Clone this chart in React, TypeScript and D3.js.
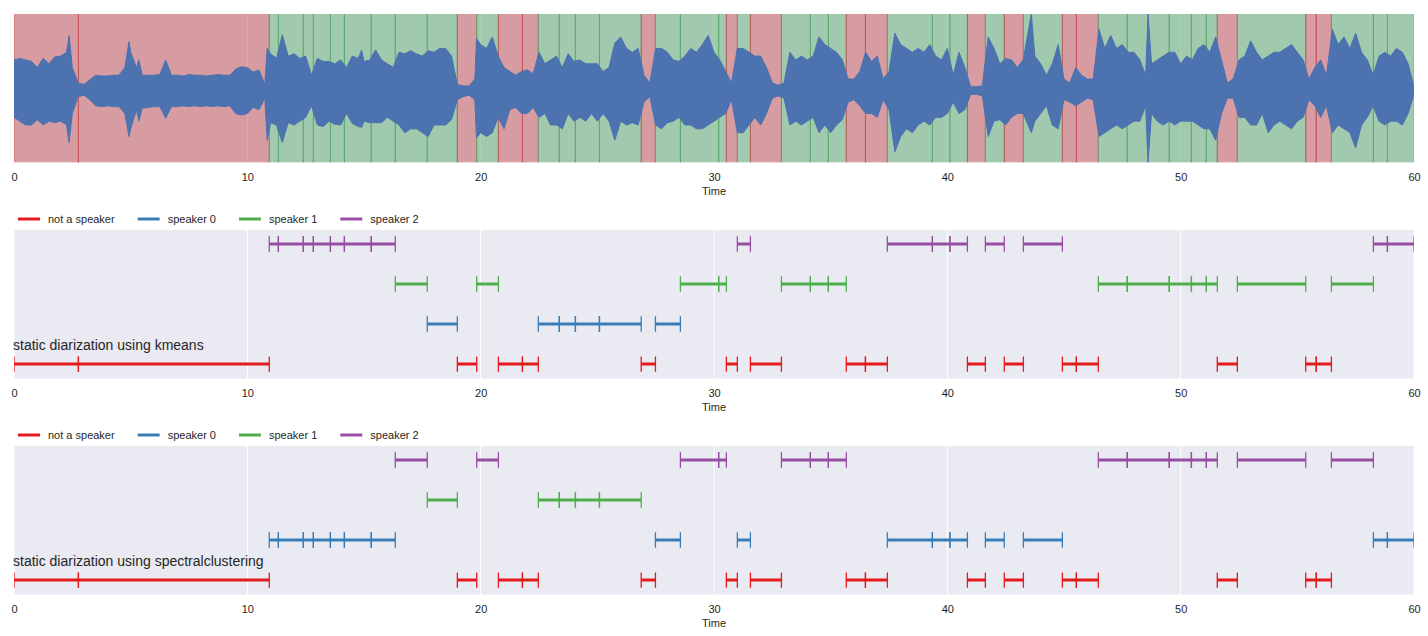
import React, { useEffect, useRef } from 'react';
import * as d3 from 'd3';

const timeTicks = [0, 10, 20, 30, 40, 50, 60];
const speakerIds = [-1, 0, 1, 2];
const speakerNames = ['not a speaker', 'speaker 0', 'speaker 1', 'speaker 2'];
const speakerColors = ['#e41a1c', '#377eb8', '#4daf4a', '#984ea3'];

// segment boundaries in seconds (52 segments)
const segmentBounds = [
  0, 2.76, 10.94, 11.33, 12.4, 12.83, 13.56, 14.16, 15.31, 16.34,
  17.71, 19.0, 19.83, 20.76, 21.79, 22.47, 23.37, 24.06, 25.09, 26.88,
  27.49, 28.56, 30.2, 30.53, 31.0, 31.56, 32.89, 34.13, 34.9, 35.67,
  36.49, 37.43, 39.36, 40.11, 40.86, 41.63, 42.44, 43.26, 44.93, 45.53,
  46.47, 47.71, 49.51, 50.46, 51.1, 51.57, 52.43, 55.36, 55.81, 56.46,
  58.26, 58.86, 60,
];

const kmeansLabels = [
  -1, -1, 2, 2, 2, 2, 2, 2, 2, 1, 0, -1, 1, -1, -1, 0, 0, 0, 0, -1,
  0, 1, 1, -1, 2, -1, 1, 1, 1, -1, -1, 2, 2, 2, -1, 2, -1, 2, -1, -1,
  1, 1, 1, 1, 1, -1, 1, -1, -1, 1, 2, 2,
];

const spectralLabels = [
  -1, -1, 0, 0, 0, 0, 0, 0, 0, 2, 1, -1, 2, -1, -1, 1, 1, 1, 1, -1,
  0, 2, 2, -1, 0, -1, 2, 2, 2, -1, -1, 0, 0, 0, -1, 0, -1, 0, -1, -1,
  2, 2, 2, 2, 2, -1, 2, -1, -1, 2, 0, 0,
];

// audio envelope: [time, max, min]
const waveEnvelope: [number, number, number][] = [
  [0, 0.4, -0.35], [0.25, 0.42, -0.4], [0.5, 0.4, -0.45], [0.75, 0.38, -0.45],
  [1, 0.3, -0.38], [1.25, 0.42, -0.45], [1.5, 0.35, -0.4], [1.75, 0.44, -0.42],
  [2, 0.45, -0.4], [2.25, 0.5, -0.45], [2.36, 0.72, -0.68], [2.5, 0.3, -0.3], [2.75, 0.1, -0.08],
  [3, 0.08, -0.06], [3.25, 0.14, -0.12], [3.5, 0.2, -0.2], [3.75, 0.19, -0.21],
  [4, 0.19, -0.2], [4.25, 0.2, -0.21], [4.5, 0.2, -0.21], [4.75, 0.3, -0.3], [4.93, 0.64, -0.6],
  [5, 0.5, -0.5], [5.25, 0.3, -0.25], [5.35, 0.4, -0.4], [5.5, 0.2, -0.23], [5.75, 0.2, -0.22],
  [6, 0.2, -0.21], [6.25, 0.21, -0.21], [6.5, 0.4, -0.36], [6.75, 0.2, -0.21],
  [7, 0.2, -0.21], [7.25, 0.19, -0.2], [7.5, 0.21, -0.21], [7.75, 0.2, -0.2],
  [8, 0.2, -0.21], [8.25, 0.19, -0.2], [8.5, 0.2, -0.21], [8.75, 0.21, -0.2],
  [9, 0.2, -0.21], [9.25, 0.2, -0.2], [9.5, 0.28, -0.3], [9.75, 0.31, -0.32],
  [10, 0.3, -0.3], [10.25, 0.24, -0.22], [10.5, 0.27, -0.25], [10.75, 0.08, -0.1], [10.85, 0.55, -0.65],
  [11, 0.48, -0.42], [11.25, 0.42, -0.45], [11.5, 0.73, -0.68], [11.75, 0.45, -0.42],
  [12, 0.48, -0.45], [12.25, 0.42, -0.4], [12.5, 0.45, -0.35], [12.75, 0.2, -0.2],
  [13, 0.42, -0.45], [13.25, 0.38, -0.47], [13.5, 0.38, -0.4], [13.75, 0.35, -0.44],
  [14, 0.4, -0.45], [14.25, 0.3, -0.3], [14.5, 0.45, -0.43], [14.75, 0.42, -0.47], [14.9, 0.53, -0.48],
  [15, 0.38, -0.4], [15.25, 0.4, -0.42], [15.5, 0.53, -0.42], [15.75, 0.4, -0.42],
  [16, 0.35, -0.35], [16.25, 0.3, -0.4], [16.5, 0.5, -0.45], [16.75, 0.48, -0.55],
  [17, 0.52, -0.5], [17.25, 0.48, -0.5], [17.5, 0.45, -0.55], [17.75, 0.52, -0.6],
  [18, 0.5, -0.45], [18.25, 0.55, -0.45], [18.5, 0.55, -0.45], [18.75, 0.45, -0.38],
  [19, 0.08, -0.12], [19.25, 0.06, -0.08], [19.5, 0.06, -0.06], [19.75, 0.15, -0.12], [19.82, 0.68, -0.62],
  [20, 0.6, -0.55], [20.25, 0.55, -0.6], [20.5, 0.7, -0.55], [20.75, 0.45, -0.35],
  [21, 0.3, -0.5], [21.25, 0.25, -0.25], [21.5, 0.2, -0.22], [21.75, 0.25, -0.3],
  [22, 0.27, -0.3], [22.25, 0.22, -0.22], [22.5, 0.5, -0.35], [22.75, 0.35, -0.3],
  [23, 0.4, -0.45], [23.25, 0.45, -0.45], [23.5, 0.3, -0.5], [23.75, 0.48, -0.3],
  [24, 0.38, -0.4], [24.25, 0.4, -0.35], [24.5, 0.35, -0.4], [24.75, 0.35, -0.3],
  [25, 0.35, -0.4], [25.25, 0.25, -0.3], [25.5, 0.3, -0.4], [25.75, 0.62, -0.65],
  [26, 0.7, -0.4], [26.25, 0.55, -0.45], [26.5, 0.5, -0.42], [26.75, 0.55, -0.45],
  [27, 0.2, -0.15], [27.25, 0.1, -0.08], [27.5, 0.55, -0.45], [27.75, 0.55, -0.5],
  [28, 0.5, -0.42], [28.25, 0.4, -0.4], [28.5, 0.38, -0.35], [28.75, 0.45, -0.45],
  [29, 0.55, -0.45], [29.25, 0.5, -0.5], [29.5, 0.6, -0.5], [29.75, 0.72, -0.45],
  [30, 0.5, -0.4], [30.25, 0.4, -0.35], [30.5, 0.25, -0.3], [30.75, 0.1, -0.12],
  [31, 0.55, -0.55], [31.25, 0.55, -0.55], [31.5, 0.5, -0.45], [31.75, 0.45, -0.35],
  [32, 0.45, -0.45], [32.25, 0.3, -0.3], [32.5, 0.1, -0.1], [32.75, 0.07, -0.07],
  [33, 0.1, -0.1], [33.25, 0.5, -0.45], [33.5, 0.4, -0.4], [33.75, 0.45, -0.45],
  [34, 0.4, -0.4], [34.25, 0.45, -0.35], [34.5, 0.7, -0.55], [34.75, 0.6, -0.45],
  [35, 0.55, -0.55], [35.25, 0.5, -0.45], [35.5, 0.4, -0.38], [35.75, 0.15, -0.15],
  [36, 0.15, -0.12], [36.25, 0.25, -0.2], [36.5, 0.5, -0.3], [36.75, 0.38, -0.3],
  [37, 0.45, -0.35], [37.25, 0.15, -0.12], [37.5, 0.25, -0.25], [37.75, 0.75, -0.8],
  [38, 0.6, -0.6], [38.25, 0.55, -0.5], [38.5, 0.5, -0.55], [38.75, 0.55, -0.45],
  [39, 0.5, -0.4], [39.25, 0.6, -0.45], [39.5, 0.45, -0.35], [39.75, 0.4, -0.35],
  [40, 0.55, -0.3], [40.25, 0.2, -0.15], [40.5, 0.5, -0.3], [40.75, 0.3, -0.25],
  [41, 0.05, -0.05], [41.25, 0.05, -0.05], [41.5, 0.06, -0.07], [41.75, 0.7, -0.6],
  [42, 0.55, -0.4], [42.25, 0.35, -0.38], [42.5, 0.42, -0.45], [42.75, 0.4, -0.35],
  [43, 0.3, -0.3], [43.25, 0.4, -0.3], [43.6, 1.0, -0.55], [43.75, 0.45, -0.4],
  [44, 0.35, -0.3], [44.25, 0.2, -0.2], [44.5, 0.35, -0.45], [44.75, 0.6, -0.5],
  [45, 0.15, -0.12], [45.25, 0.1, -0.15], [45.5, 0.3, -0.2], [45.75, 0.2, -0.15],
  [46, 0.15, -0.1], [46.25, 0.15, -0.12], [46.5, 0.8, -0.6], [46.75, 0.55, -0.55],
  [47, 0.72, -0.5], [47.25, 0.55, -0.45], [47.5, 0.6, -0.5], [47.75, 0.5, -0.45],
  [48, 0.5, -0.4], [48.25, 0.4, -0.4], [48.5, 0.2, -0.2], [48.6, 1.0, -0.94], [48.75, 0.35, -0.3],
  [49, 0.4, -0.4], [49.25, 0.45, -0.45], [49.5, 0.5, -0.4], [49.75, 0.5, -0.45],
  [50, 0.35, -0.4], [50.25, 0.45, -0.4], [50.5, 0.4, -0.4], [50.75, 0.55, -0.45],
  [51, 0.6, -0.5], [51.25, 0.5, -0.5], [51.5, 0.7, -0.65], [51.75, 0.4, -0.3],
  [52, 0.1, -0.1], [52.25, 0.15, -0.1], [52.5, 0.4, -0.35], [52.75, 0.45, -0.35],
  [53, 0.65, -0.45], [53.25, 0.5, -0.45], [53.5, 0.4, -0.3], [53.75, 0.45, -0.55],
  [54, 0.5, -0.45], [54.25, 0.5, -0.4], [54.5, 0.55, -0.45], [54.75, 0.6, -0.5],
  [55, 0.5, -0.4], [55.25, 0.4, -0.35], [55.5, 0.15, -0.12], [55.75, 0.3, -0.2],
  [56, 0.4, -0.35], [56.25, 0.2, -0.2], [56.5, 0.8, -0.55], [56.75, 0.6, -0.45],
  [57, 0.7, -0.5], [57.25, 0.55, -0.55], [57.5, 0.75, -0.75], [57.75, 0.5, -0.45],
  [58, 0.4, -0.35], [58.25, 0.2, -0.2], [58.5, 0.45, -0.4], [58.75, 0.5, -0.45],
  [59, 0.45, -0.4], [59.25, 0.55, -0.4], [59.5, 0.5, -0.45], [59.75, 0.35, -0.3],
  [60, 0.05, -0.05],
];

export default function App() {
  const svgRef = useRef<SVGSVGElement | null>(null);
  const width = 1428;
  const height = 636;

  useEffect(() => {
    const svg = d3.select(svgRef.current!);
    svg.selectAll('*').remove();

    const left = 14;
    const right = 1414;
    const font = '"Liberation Sans", Arial, sans-serif';
    const textColor = '#262626';
    const x = d3.scaleLinear().domain([0, 60]).range([left, right]);
    const defs = svg.append('defs');

    const segments = d3.range(segmentBounds.length - 1).map((i) => ({
      start: segmentBounds[i],
      end: segmentBounds[i + 1],
      km: kmeansLabels[i],
      sc: spectralLabels[i],
    }));

    function frame(top: number, bottom: number, id: string) {
      svg
        .append('rect')
        .attr('x', left)
        .attr('y', top)
        .attr('width', right - left)
        .attr('height', bottom - top)
        .attr('fill', '#EAEAF2');
      svg
        .append('g')
        .selectAll('line')
        .data(timeTicks)
        .join('line')
        .attr('x1', (d) => x(d))
        .attr('x2', (d) => x(d))
        .attr('y1', top)
        .attr('y2', bottom)
        .attr('stroke', '#fff')
        .attr('stroke-width', 1);
      defs
        .append('clipPath')
        .attr('id', id)
        .append('rect')
        .attr('x', left)
        .attr('y', top)
        .attr('width', right - left)
        .attr('height', bottom - top);

      const axis = svg
        .append('g')
        .attr('transform', `translate(0,${bottom})`)
        .call(d3.axisBottom(x).tickValues(timeTicks).tickSize(0).tickPadding(10.5).tickFormat(d3.format('d')));
      axis.select('.domain').remove();
      axis
        .selectAll('text')
        .attr('font-family', font)
        .attr('font-size', 11)
        .attr('fill', textColor);
      svg
        .append('text')
        .attr('x', (left + right) / 2)
        .attr('y', bottom + 32)
        .attr('text-anchor', 'middle')
        .attr('font-family', font)
        .attr('font-size', 11)
        .attr('fill', textColor)
        .text('Time');
      return svg.append('g').attr('clip-path', `url(#${id})`);
    }

    // --- panel 1: waveform with speech / non-speech spans
    const top1 = 14;
    const bottom1 = 162.5;
    const g1 = frame(top1, bottom1, 'clip-wave');
    const spanRed = '#C44E52';
    const spanGreen = '#55A868';
    segments.forEach((s) => {
      const c = s.km < 0 ? spanRed : spanGreen;
      g1.append('rect')
        .attr('x', x(s.start))
        .attr('y', top1)
        .attr('width', x(s.end) - x(s.start))
        .attr('height', bottom1 - top1)
        .attr('fill', c)
        .attr('fill-opacity', 0.5);
      g1.selectAll(null)
        .data([s.start, s.end])
        .enter()
        .append('line')
        .attr('x1', (d) => x(d))
        .attr('x2', (d) => x(d))
        .attr('y1', top1)
        .attr('y2', bottom1)
        .attr('stroke', c)
        .attr('stroke-opacity', 0.75)
        .attr('stroke-width', 1);
    });
    const yWave = d3.scaleLinear().domain([-0.94, 1.0]).range([bottom1, top1]);
    const area = d3
      .area<[number, number, number]>()
      .x((d) => x(d[0]))
      .y0((d) => yWave(d[2]))
      .y1((d) => yWave(d[1]));
    g1.append('path')
      .datum(waveEnvelope)
      .attr('d', area)
      .attr('fill', '#4C72B0')
      .attr('stroke', '#4C72B0')
      .attr('stroke-width', 1);

    // --- panels 2 and 3: diarization segments
    function diarization(top: number, bottom: number, id: string, key: 'km' | 'sc', title: string) {
      const g = frame(top, bottom, id);
      const y = d3.scaleLinear().domain([-1.36, 2.35]).range([bottom, top]);
      const color = d3.scaleOrdinal<number, string>().domain(speakerIds).range(speakerColors);

      segments.forEach((s) => {
        const lab = s[key];
        g.append('line')
          .attr('x1', x(s.start))
          .attr('x2', x(s.end))
          .attr('y1', y(lab))
          .attr('y2', y(lab))
          .attr('stroke', color(lab))
          .attr('stroke-width', 3);
        g.selectAll(null)
          .data([s.start, s.end])
          .enter()
          .append('line')
          .attr('x1', (d) => x(d))
          .attr('x2', (d) => x(d))
          .attr('y1', y(lab) - 7.7)
          .attr('y2', y(lab) + 7.7)
          .attr('stroke', color(lab))
          .attr('stroke-width', 1.3);
      });

      svg
        .append('text')
        .attr('x', x(0) - 1)
        .attr('y', y(-0.65))
        .attr('font-family', font)
        .attr('font-size', 14)
        .attr('fill', textColor)
        .text(title);

      // legend above the axes
      const legendY = top - 11;
      let lx = 18;
      speakerIds.forEach((id2, i) => {
        svg
          .append('line')
          .attr('x1', lx)
          .attr('x2', lx + 22)
          .attr('y1', legendY)
          .attr('y2', legendY)
          .attr('stroke', speakerColors[i])
          .attr('stroke-width', 3);
        const t = svg
          .append('text')
          .attr('x', lx + 30)
          .attr('y', legendY + 4)
          .attr('font-family', font)
          .attr('font-size', 11)
          .attr('fill', textColor)
          .text(speakerNames[i]);
        const w = (t.node() as SVGTextElement).getComputedTextLength();
        lx = lx + 30 + w + 23;
      });
    }

    diarization(230, 378.5, 'clip-km', 'km', 'static diarization using kmeans');
    diarization(446, 594.5, 'clip-sc', 'sc', 'static diarization using spectralclustering');
  }, []);

  return (
    <svg
      ref={svgRef}
      width={width}
      height={height}
      style={{ position: 'absolute', left: 0, top: 0, background: '#fff' }}
    />
  );
}
